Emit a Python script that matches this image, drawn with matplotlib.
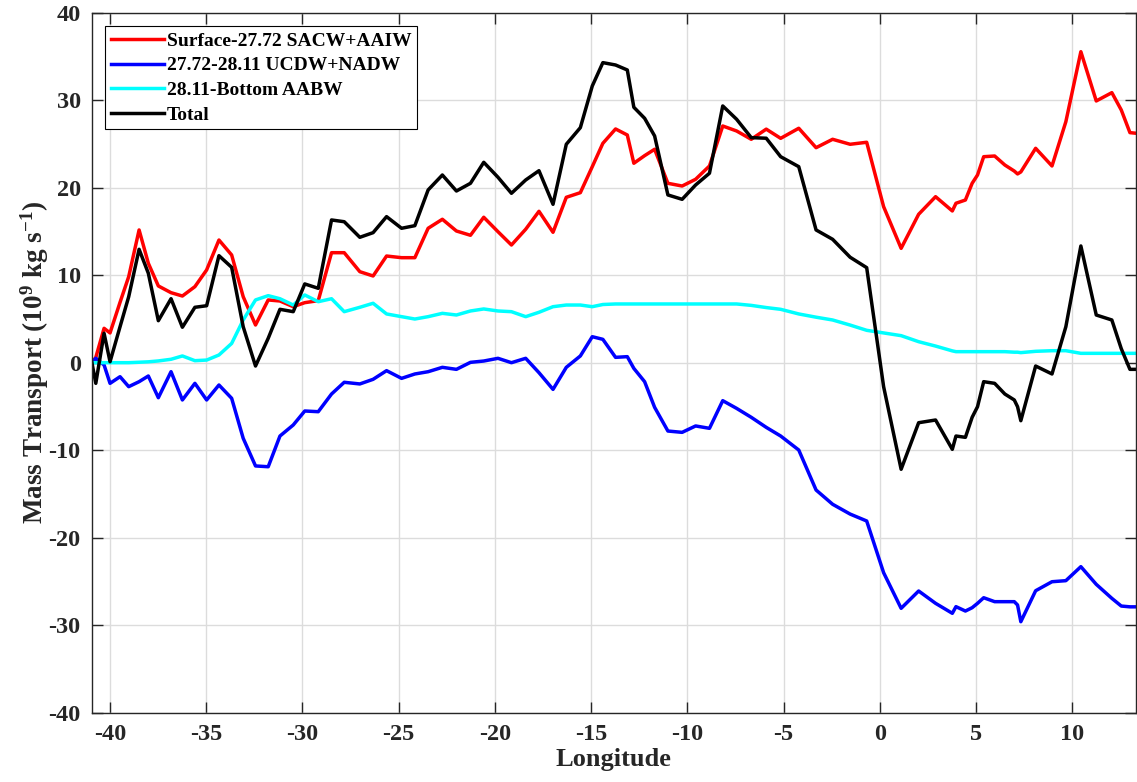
import matplotlib
matplotlib.use("Agg")
import matplotlib.pyplot as plt

plt.rcParams['font.family'] = ['Liberation Serif', 'DejaVu Serif']
plt.rcParams['font.weight'] = 'bold'
plt.rcParams['mathtext.default'] = 'regular'
plt.rcParams['axes.unicode_minus'] = False

# station longitudes along the section
lon = [-40.95, -40.74, -40.31, -40.0, -39.48, -39.03, -38.49, -38.01, -37.49, -36.83,
       -36.24, -35.59, -34.98, -34.34, -33.68, -33.08, -32.44, -31.78, -31.17, -30.48,
       -29.88, -29.18, -28.49, -27.83, -27.02, -26.33, -25.63, -24.85, -24.16, -23.47,
       -22.73, -22.0, -21.27, -20.58, -19.84, -19.14, -18.40, -17.71, -16.98, -16.29,
       -15.56, -14.94, -14.39, -13.73, -13.12, -12.78, -12.22, -11.70, -11.01, -10.27,
       -9.57, -8.85, -8.16, -7.44, -6.68, -5.90, -5.15, -4.21, -3.31, -2.45,
       -1.54, -0.68, 0.2, 1.11, 2.02, 2.9, 3.77, 3.96, 4.45, 4.8,
       5.08, 5.4, 5.97, 6.5, 6.99, 7.16, 7.33, 8.1, 8.95, 9.67,
       10.45, 11.25, 12.06, 12.55, 13.0, 13.32]

# Surface-27.72 SACW+AAIW
surf = [0.0, 0.6, 3.93, 3.4, 6.9, 9.83, 15.17, 11.36, 8.77, 8.0,
        7.62, 8.69, 10.6, 14.02, 12.31, 7.54, 4.31, 7.17, 7.05, 6.4,
        6.86, 7.09, 12.57, 12.57, 10.4, 9.91, 12.19, 12.0, 12.0, 15.36,
        16.39, 15.05, 14.56, 16.62, 14.97, 13.45, 15.25, 17.3, 14.9, 18.9,
        19.43, 22.4, 25.07, 26.71, 26.02, 22.79, 23.66, 24.39, 20.5, 20.19,
        20.96, 22.48, 27.05, 26.48, 25.53, 26.69, 25.64, 26.79, 24.57, 25.53,
        24.96, 25.19, 17.83, 13.07, 16.96, 18.97, 17.34, 18.22, 18.59, 20.5,
        21.45, 23.54, 23.62, 22.59, 21.9, 21.57, 21.8, 24.5, 22.48, 27.54,
        35.54, 29.91, 30.86, 28.88, 26.29, 26.22]

# 27.72-28.11 UCDW+NADW
mid = [0.0, 0.5, -0.26, -2.36, -1.6, -2.74, -2.17, -1.52, -4.0, -1.03,
       -4.26, -2.36, -4.26, -2.55, -4.07, -8.64, -11.8, -11.89, -8.38, -7.12,
       -5.52, -5.6, -3.58, -2.24, -2.43, -1.9, -0.91, -1.79, -1.29, -1.03,
       -0.53, -0.76, 0.04, 0.19, 0.5, 0.0, 0.5, -1.14, -3.05, -0.53,
       0.77, 2.97, 2.67, 0.61, 0.69, -0.65, -2.17, -5.1, -7.81, -7.96,
       -7.23, -7.5, -4.34, -5.22, -6.24, -7.39, -8.38, -9.98, -14.55, -16.18,
       -17.3, -18.09, -24.0, -28.07, -26.09, -27.5, -28.64, -27.88, -28.38, -28.0,
       -27.5, -26.86, -27.31, -27.31, -27.31, -27.69, -29.6, -26.06, -25.03, -24.91,
       -23.31, -25.33, -26.93, -27.81, -27.9, -27.9]

# 28.11-Bottom AABW
bott = [0.0, 0.0, 0.0, 0.0, 0.0, 0.0, 0.05, 0.1, 0.2, 0.39,
        0.77, 0.23, 0.3, 0.88, 2.2, 4.88, 7.17, 7.66, 7.31, 6.59,
        7.74, 6.97, 7.31, 5.83, 6.33, 6.79, 5.57, 5.26, 4.99, 5.26,
        5.64, 5.45, 5.91, 6.14, 5.91, 5.83, 5.26, 5.76, 6.4, 6.59,
        6.59, 6.4, 6.65, 6.71, 6.71, 6.71, 6.71, 6.71, 6.71, 6.71,
        6.71, 6.71, 6.71, 6.71, 6.55, 6.3, 6.1, 5.57, 5.2, 4.88,
        4.3, 3.7, 3.4, 3.09, 2.4, 1.9, 1.35, 1.26, 1.26, 1.26,
        1.26, 1.26, 1.26, 1.26, 1.2, 1.2, 1.15, 1.3, 1.37, 1.37,
        1.07, 1.07, 1.07, 1.07, 1.07, 1.07]

# Total
total = [0.1, -2.36, 3.36, 0.11, 4.11, 7.54, 12.96, 10.22, 4.8, 7.31,
         4.05, 6.33, 6.51, 12.23, 10.9, 4.11, -0.38, 2.79, 6.1, 5.83,
         9.0, 8.5, 16.31, 16.11, 14.33, 14.86, 16.69, 15.36, 15.66, 19.74,
         21.45, 19.62, 20.5, 22.9, 21.19, 19.36, 20.88, 21.94, 18.1, 24.96,
         26.86, 31.62, 34.29, 34.02, 33.45, 29.19, 27.93, 25.91, 19.17, 18.67,
         20.31, 21.65, 29.34, 27.82, 25.72, 25.65, 23.54, 22.4, 15.17, 14.1,
         12.05, 10.86, -2.74, -12.18, -6.86, -6.55, -9.9, -8.38, -8.53, -6.24,
         -5.03, -2.17, -2.36, -3.58, -4.26, -5.03, -6.63, -0.38, -1.29, 4.11,
         13.34, 5.45, 4.88, 1.6, -0.76, -0.76]

xticks = [-40, -35, -30, -25, -20, -15, -10, -5, 0, 5, 10]
yticks = [-40, -30, -20, -10, 0, 10, 20, 30, 40]

fig = plt.figure(figsize=(11.37, 7.82), dpi=100)
ax = fig.add_axes([0.0807, 0.0886, 0.9185, 0.8952])

lw = 2.5
ax.plot(lon, surf, color='red', lw=lw, label='Surface-27.72 SACW+AAIW')
ax.plot(lon, mid, color='blue', lw=lw, label='27.72-28.11 UCDW+NADW')
ax.plot(lon, bott, color='cyan', lw=lw, label='28.11-Bottom AABW')
ax.plot(lon, total, color='black', lw=lw, label='Total')

ax.set_xlim(lon[0], lon[-1])
ax.set_ylim(-40, 40)
ax.set_xticks(xticks)
ax.set_yticks(yticks)
ax.grid(True, color='#dcdcdc', lw=1.0)
ax.set_axisbelow(True)

ax.tick_params(direction='in', length=8, width=1, colors='#262626',
               labelsize=17.5, top=True, right=True, pad=8)
for sp in ax.spines.values():
    sp.set_color('#262626')
    sp.set_linewidth(1.0)

ax.set_xlabel('Longitude', fontsize=19, fontweight='bold', color='#262626', labelpad=2)
ax.set_ylabel('Mass Transport (10$^{9}$ kg s$^{-1}$)', fontsize=19.5,
              fontweight='bold', color='#262626', labelpad=-2)

leg = ax.legend(loc='upper left', fontsize=14, frameon=True, fancybox=False,
                edgecolor='black', framealpha=1, handlelength=2.7,
                handletextpad=0.15, labelspacing=0.36, borderaxespad=0.7,
                borderpad=0.3)
leg.get_frame().set_linewidth(0.8)

plt.savefig('out.png', dpi=100)
